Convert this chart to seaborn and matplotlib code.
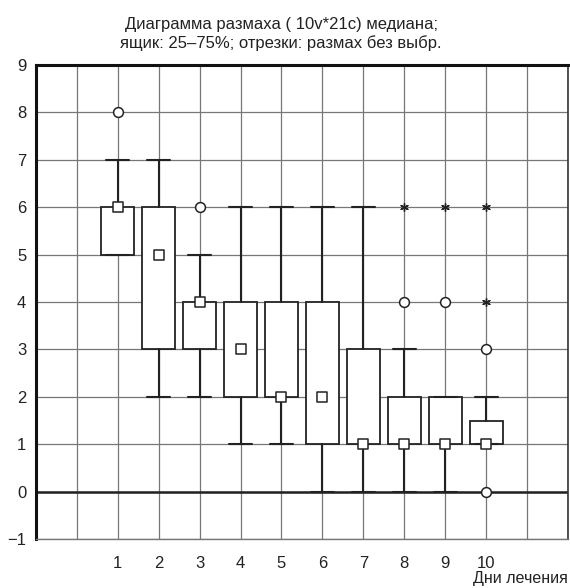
import numpy as np
import seaborn as sns
import matplotlib
matplotlib.use("Agg")
import matplotlib.pyplot as plt

# box plot stats per day
days = [1, 2, 3, 4, 5, 6, 7, 8, 9, 10]
medians = [6, 5, 4, 3, 2, 2, 1, 1, 1, 1]
q1 = [5, 3, 3, 2, 2, 1, 1, 1, 1, 1]
q3 = [6, 6, 4, 4, 4, 4, 3, 2, 2, 1.5]
whis_lo = [5, 2, 2, 1, 1, 0, 0, 0, 0, 1]
whis_hi = [7, 7, 5, 6, 6, 6, 6, 3, 2, 2]
# outliers (circles) and extremes (stars)
out_x = [1, 3, 8, 9, 10, 10]
out_y = [8, 6, 4, 4, 3, 0]
ext_x = [8, 9, 10, 10]
ext_y = [6, 6, 6, 4]

sns.set_style("white")
plt.rcParams['font.family'] = ['Liberation Sans', 'DejaVu Sans']

fig = plt.figure(figsize=(5.7, 5.88), dpi=100)
ax = fig.add_axes([0.063, 0.0833, 0.9335, 0.8062])

stats = []
for i in range(len(days)):
    stats.append(dict(med=medians[i], q1=q1[i], q3=q3[i],
                      whislo=whis_lo[i], whishi=whis_hi[i], fliers=[]))

ax.bxp(stats, positions=days, widths=0.8, capwidths=0.56, showfliers=False,
       patch_artist=True,
       boxprops=dict(facecolor="white", edgecolor="#222222", linewidth=1.3),
       whiskerprops=dict(color="#222222", linewidth=1.5),
       capprops=dict(color="#222222", linewidth=1.5),
       medianprops=dict(linewidth=0), zorder=3)

sns.scatterplot(x=days, y=medians, marker="s", s=45, color="white",
                edgecolor="#222222", linewidth=1.1, ax=ax, zorder=5)
sns.scatterplot(x=out_x, y=out_y, marker="o", s=50, color="white",
                edgecolor="#222222", linewidth=1.1, ax=ax, zorder=5)
sns.scatterplot(x=ext_x, y=ext_y, marker=(6, 2, 0), s=30, color="#222222",
                linewidth=1.0, ax=ax, zorder=5)

ax.set_xlim(-1, 12)
ax.set_ylim(-1, 9)
ax.set_xticks(range(-1, 13))
ax.set_xticklabels(["", ""] + [str(d) for d in days] + ["", ""])
ax.set_yticks(range(-1, 10))
ax.set_yticklabels(["\u22121"] + [str(v) for v in range(0, 10)])
ax.grid(True, color="#777777", linewidth=0.9)
ax.set_axisbelow(True)
ax.axhline(0, color="#222222", linewidth=1.8, zorder=2)

ax.tick_params(axis="both", which="both", direction="out", length=5,
               width=1, colors="#222222", labelsize=12, pad=2)
ax.tick_params(axis="x", length=6, pad=6)
for side in ["left", "top"]:
    ax.spines[side].set_linewidth(2.2)
    ax.spines[side].set_color("#111111")
ax.spines["right"].set_linewidth(1.2)
ax.spines["right"].set_color("#333333")
ax.spines["bottom"].set_linewidth(1.0)
ax.spines["bottom"].set_color("#777777")

fig.text(0.493, 0.942, "Диаграмма размаха ( 10v*21c) медиана;\nящик: 25\u201375%; отрезки: размах без выбр.",
         ha="center", va="center", fontsize=12, color="#222222", linespacing=1.3)
fig.text(0.997, 0.017, "Дни лечения", ha="right", va="center", fontsize=11.5, color="#222222")

fig.savefig("out.png", dpi=100)
